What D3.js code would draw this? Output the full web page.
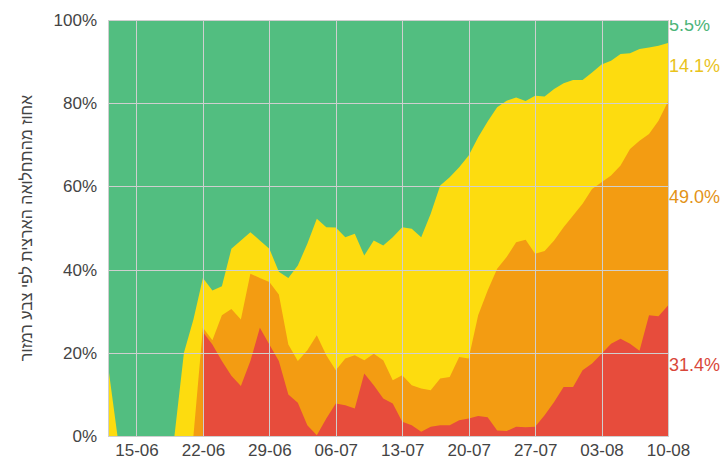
<!DOCTYPE html>
<html>
<head>
<meta charset="utf-8">
<script src="https://cdn.jsdelivr.net/npm/d3@7"></script>
<style>
    body { margin: 0; background: #fff; }
    text { font-family: "Liberation Sans", Arial, sans-serif; }
</style>
</head>
<body>
<svg id="chart" width="723" height="462"></svg>
<script>
// one value per day, 12-06 .. 10-08 (percent of national morbidity by traffic-light colour)
const firstDay = new Date(2020, 5, 12);
const lastDay = new Date(2020, 7, 10);
const days = d3.timeDay.range(firstDay, d3.timeDay.offset(lastDay, 1));

const tickDays = d3.timeDay.range(new Date(2020, 5, 15), d3.timeDay.offset(lastDay, 1), 7);
const yTicks = [0, 20, 40, 60, 80, 100];
const yTitle = "אחוז מהתחלואה הארצית לפי צבע רמזור";

const red = [
    null, null, null, null, null, null, null, null, null, null,
    25, 22, 18, 14.5, 12, 18, 26, 22, 18, 10,
    8, 2.6, 0.2, 4.2, 7.8, 7.4, 6.6, 15, 12.2, 9,
    7.8, 3.4, 2.6, 1, 2.2, 2.6, 2.6, 3.8, 4.2, 4.8,
    4.5, 1.3, 1.2, 2.2, 2.1, 2.2, 5, 8.2, 11.8, 11.8,
    15.8, 17.4, 19.8, 22.2, 23.4, 22.2, 20.5, 29, 28.8, 31.4];
const orange = [
    0, 0, 0, 0, 0, 0, 0, 0, 0, 0,
    1, 1, 11, 16, 16, 21, 12, 15, 16, 12,
    10, 18, 24, 15.2, 8, 11.2, 12.8, 3.2, 7.6, 9.2,
    5.6, 11.2, 9.6, 10.4, 8.8, 11.2, 11.6, 15.2, 14.4, 24.2,
    30.5, 38.9, 41.8, 44.4, 45.1, 41.6, 39.5, 38.8, 38.4, 41.2,
    40, 42, 41.2, 40.4, 41.6, 46.8, 50.5, 43.6, 47, 49.0];
const yellow = [
    17, 0, 0, 0, 0, 0, 0, 0, 20, 28,
    12, 12, 7, 14.5, 19, 10, 9, 8, 5.5, 16,
    23, 25.6, 28, 30.8, 34.3, 29.2, 29.2, 25.2, 27.2, 27.6,
    34.4, 35.6, 37.6, 36.4, 42.4, 46.4, 48, 45.6, 48.8, 42.8,
    40.6, 38.8, 37.6, 34.8, 33.3, 38, 37.1, 36.4, 34.6, 32.6,
    29.8, 28, 28.3, 27.6, 26.8, 23, 22, 20.8, 18, 14.1];
const green = [
    83, 100, 100, 100, 100, 100, 100, 100, 80, 72,
    62, 65, 64, 55, 53, 51, 53, 55, 60.5, 62,
    59, 53.8, 47.8, 49.8, 49.9, 52.2, 51.4, 56.6, 53, 54.2,
    52.2, 49.8, 50.2, 52.2, 46.6, 39.8, 37.8, 35.4, 32.6, 28.2,
    24.4, 21, 19.4, 18.6, 19.5, 18.2, 18.4, 16.6, 15.2, 14.4,
    14.4, 12.6, 10.7, 9.8, 8.2, 8, 7, 6.6, 6.2, 5.5];

const layers = [
    {key: "red", values: red, fill: "#e74c3c", label: "#d9473a"},
    {key: "orange", values: orange, fill: "#f39c12", label: "#e39317"},
    {key: "yellow", values: yellow, fill: "#fddc0f", label: "#e9c31c"},
    {key: "green", values: green, fill: "#52be80", label: "#4cb479"},
];

const margin = {top: 20, right: 55, bottom: 26, left: 108},
    totalWidth = 723,
    totalHeight = 462,
    width = totalWidth - margin.left - margin.right,
    height = totalHeight - margin.top - margin.bottom;

const rows = days.map((day, i) => {
    const row = {date: day};
    layers.forEach(l => row[l.key] = l.values[i] || 0);
    return row;
});
const stacked = d3.stack().keys(layers.map(l => l.key))(rows);

const x = d3.scaleTime().domain([firstDay, lastDay]).range([0, width]);
const y = d3.scaleLinear().domain([0, 100]).range([height, 0]);

const svg = d3.select("#chart");
const diagram = svg.append("g")
    .attr("transform", `translate(${margin.left},${margin.top})`);

// labels on the right are cut at the top edge of the plot
svg.append("defs").append("clipPath")
    .attr("id", "below-top")
    .append("rect")
    .attr("x", 0).attr("y", 0)
    .attr("width", width + margin.right).attr("height", height + margin.bottom);

// paint from the top layer down, each area from 0 to its cumulative value
for (let l = layers.length - 1; l >= 0; --l) {
    const layer = layers[l];
    const series = stacked[l];
    const area = d3.area()
        .defined((d, i) => layer.values[i] !== null)
        .x(d => x(d.data.date))
        .y0(y(0))
        .y1(d => y(d[1]));
    diagram.append("path")
        .datum(series)
        .attr("fill", layer.fill)
        .attr("d", area);
}

const grid = diagram.append("g")
    .attr("stroke", "#cfcfcf")
    .attr("stroke-width", 1);
for (const t of yTicks) {
    grid.append("line")
        .attr("x1", 0).attr("x2", width)
        .attr("y1", Math.round(y(t)) + 0.5).attr("y2", Math.round(y(t)) + 0.5);
}
for (const d of tickDays) {
    grid.append("line")
        .attr("x1", Math.round(x(d)) + 0.5).attr("x2", Math.round(x(d)) + 0.5)
        .attr("y1", 0).attr("y2", height);
}
grid.append("rect")
    .attr("x", 0.5).attr("y", 0.5)
    .attr("width", width).attr("height", height)
    .attr("fill", "none");

const yAxis = diagram.append("g")
    .call(d3.axisLeft(y).tickValues(yTicks).tickFormat(d => d + "%").tickSize(0).tickPadding(11));
yAxis.select(".domain").remove();
yAxis.selectAll("text")
    .attr("font-size", 17)
    .attr("fill", "#444");

const xAxis = diagram.append("g")
    .attr("transform", `translate(0,${height})`)
    .call(d3.axisBottom(x).tickValues(tickDays).tickFormat(d3.timeFormat("%d-%m")).tickSize(0).tickPadding(8));
xAxis.select(".domain").remove();
xAxis.selectAll("text")
    .attr("font-size", 17)
    .attr("fill", "#444");

svg.append("text")
    .attr("transform", `translate(32,${margin.top + height / 2}) rotate(-90)`)
    .attr("text-anchor", "middle")
    .attr("font-size", 16)
    .attr("fill", "#444")
    .text(yTitle);

// end-of-series labels at the middle of each band on the last day
const last = days.length - 1;
const endLabels = diagram.append("g")
    .attr("clip-path", "url(#below-top)");
layers.forEach((layer, l) => {
    const top = stacked[l][last][1];
    const v = layer.values[last];
    endLabels.append("text")
        .attr("x", width + 1)
        .attr("y", y(top - v / 2))
        .attr("font-size", 18)
        .attr("fill", layer.label)
        .text(d3.format(".1f")(v) + "%");
});
</script>
</body>
</html>
